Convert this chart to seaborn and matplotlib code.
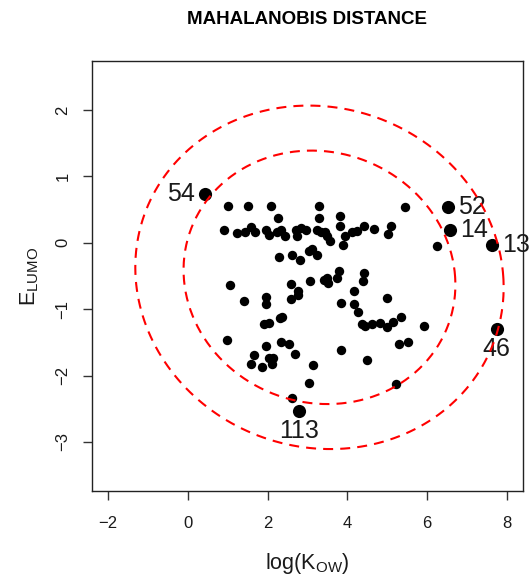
import numpy as np
import pandas as pd
import matplotlib
matplotlib.use("Agg")
import matplotlib.pyplot as plt
import seaborn as sns

# ---------------- data ----------------
log_kow = [1.00, 1.50, 2.08, 3.28, 5.45, 2.25, 3.29, 3.81,
           0.90, 1.24, 1.43, 1.58, 1.68, 1.95, 2.03, 2.24, 2.33, 2.43, 2.70, 2.73,
           2.84, 2.95, 3.24, 3.33, 3.45, 3.49, 3.56, 3.81, 3.93, 3.89, 4.12, 4.24,
           4.41, 4.66, 5.08, 5.02, 6.24,
           2.28, 2.60, 2.81, 3.03, 3.12, 3.23,
           1.06, 2.59, 3.06, 3.41, 3.49, 3.52, 3.74, 3.78, 4.41, 4.38,
           1.41, 1.97, 1.97, 2.75, 2.76, 2.58, 4.16, 4.98, 3.84, 4.16, 4.26,
           4.37, 4.45, 4.62, 4.81, 4.99, 5.15, 5.34, 5.93,
           1.91, 2.04, 2.30, 2.36,
           0.98, 1.96, 2.34, 2.53, 1.65, 2.04, 2.13, 2.10, 2.69, 1.58, 1.87,
           3.14, 3.84, 4.49, 5.30, 5.51, 3.03, 5.22, 2.62]
e_lumo = [0.55, 0.55, 0.55, 0.55, 0.54, 0.37, 0.37, 0.41,
          0.19, 0.15, 0.16, 0.24, 0.17, 0.19, 0.12, 0.16, 0.20, 0.11, 0.19, 0.10,
          0.23, 0.19, 0.19, 0.16, 0.17, 0.10, 0.03, 0.26, 0.10, -0.03, 0.17, 0.18,
          0.25, 0.21, 0.26, 0.14, -0.05,
          -0.21, -0.18, -0.26, -0.13, -0.10, -0.19,
          -0.64, -0.62, -0.58, -0.56, -0.53, -0.61, -0.53, -0.42, -0.45, -0.58,
          -0.87, -0.81, -0.92, -0.73, -0.79, -0.84, -0.72, -0.83, -0.90, -0.92, -1.04,
          -1.23, -1.26, -1.22, -1.21, -1.27, -1.19, -1.12, -1.26,
          -1.23, -1.21, -1.14, -1.12,
          -1.47, -1.56, -1.50, -1.53, -1.69, -1.73, -1.74, -1.82, -1.67, -1.83, -1.87,
          -1.84, -1.61, -1.76, -1.52, -1.50, -2.11, -2.12, -2.34]

label_ids = ["54", "52", "14", "13", "46", "113"]
label_kow = [0.43, 6.52, 6.56, 7.62, 7.74, 2.78]
label_lumo = [0.73, 0.54, 0.20, -0.03, -1.30, -2.53]
label_side = ["left", "right", "right", "right", "below", "below"]

x_ticks = [-2, 0, 2, 4, 6, 8]
y_ticks = [-3, -2, -1, 0, 1, 2]
x_range = (-2.0, 8.0)
y_range = (-3.5, 2.5)

# Mahalanobis-distance contours: centre, shape (a, b, shear) and radii
ellipse_center = (3.30, -0.52)
ellipse_shape = (3.40, 1.91, -0.20)
ellipse_radii = [1.0, 1.355]

title_text = "MAHALANOBIS DISTANCE"
x_label = r"log(K$_{\mathrm{OW}}$)"
y_label = r"E$_{\mathrm{LUMO}}$"

# ---------------- style ----------------
sns.set_style("ticks")
plt.rcParams["font.family"] = ["Liberation Sans", "DejaVu Sans"]
plt.rcParams["mathtext.fontset"] = "custom"
plt.rcParams["mathtext.rm"] = "Liberation Sans"
plt.rcParams["mathtext.default"] = "regular"

W, H = 532, 575
fig = plt.figure(figsize=(W / 100, H / 100), dpi=100)
ax = fig.add_axes([92 / W, 1 - 491 / H, (523 - 92) / W, (491 - 61) / H])

pts = pd.DataFrame({"log_kow": log_kow, "e_lumo": e_lumo})
lab = pd.DataFrame({"log_kow": label_kow, "e_lumo": label_lumo,
                    "id": label_ids, "side": label_side})

sns.scatterplot(data=pts, x="log_kow", y="e_lumo", ax=ax, color="black",
                s=46, linewidth=0, legend=False, zorder=3)
sns.scatterplot(data=lab, x="log_kow", y="e_lumo", ax=ax, color="black",
                s=90, linewidth=0, legend=False, zorder=3)

t = np.linspace(0, 2 * np.pi, 400)
a, b, d = ellipse_shape
for r in ellipse_radii:
    ex = ellipse_center[0] + r * (a * np.cos(t) + d * np.sin(t))
    ey = ellipse_center[1] + r * b * np.sin(t)
    ax.plot(ex, ey, color="#ff0000", lw=1.5, linestyle=(0, (4.8, 3.4)), zorder=5)

for _, row in lab.iterrows():
    if row["side"] == "left":
        off, ha, va = (-7.5, 0), "right", "center"
    elif row["side"] == "right":
        off, ha, va = (7.5, 0), "left", "center"
    else:
        off, ha, va = (0, -6), "center", "top"
    ax.annotate(row["id"], (row["log_kow"], row["e_lumo"]), xytext=off,
                textcoords="offset points", ha=ha, va=va, fontsize=18,
                color="#1a1a1a", annotation_clip=False, zorder=4)

ext_x = 0.04 * (x_range[1] - x_range[0])
ext_y = 0.04 * (y_range[1] - y_range[0])
ax.set_xlim(x_range[0] - ext_x, x_range[1] + ext_x)
ax.set_ylim(y_range[0] - ext_y, y_range[1] + ext_y)
ax.set_xticks(x_ticks)
ax.set_yticks(y_ticks)
ax.set_xticklabels([str(v).replace("-", "\u2212") for v in x_ticks])
ax.set_yticklabels([str(v).replace("-", "\u2212") for v in y_ticks],
                   rotation=90, va="center")
ax.tick_params(axis="both", direction="out", length=6.5, width=1.0,
               color="#333333", labelsize=12, labelcolor="#1a1a1a")
ax.tick_params(axis="x", pad=11.5)
ax.tick_params(axis="y", pad=9)
for sp in ax.spines.values():
    sp.set_visible(True)
    sp.set_linewidth(1.0)
    sp.set_color("#222222")

ax.set_xlabel("")
ax.set_ylabel("")
fig.text(307 / W, 1 - 563 / H, x_label, ha="center", va="center",
         fontsize=15.5, color="#1a1a1a")
fig.text(30 / W, 1 - 276 / H, y_label, ha="center", va="center",
         rotation=90, fontsize=15.5, color="#1a1a1a")
fig.text(307 / W, 1 - 20 / H, title_text, ha="center", va="center",
         fontsize=13.5, fontweight="bold", color="#000000")

fig.savefig("out.png", dpi=100)
